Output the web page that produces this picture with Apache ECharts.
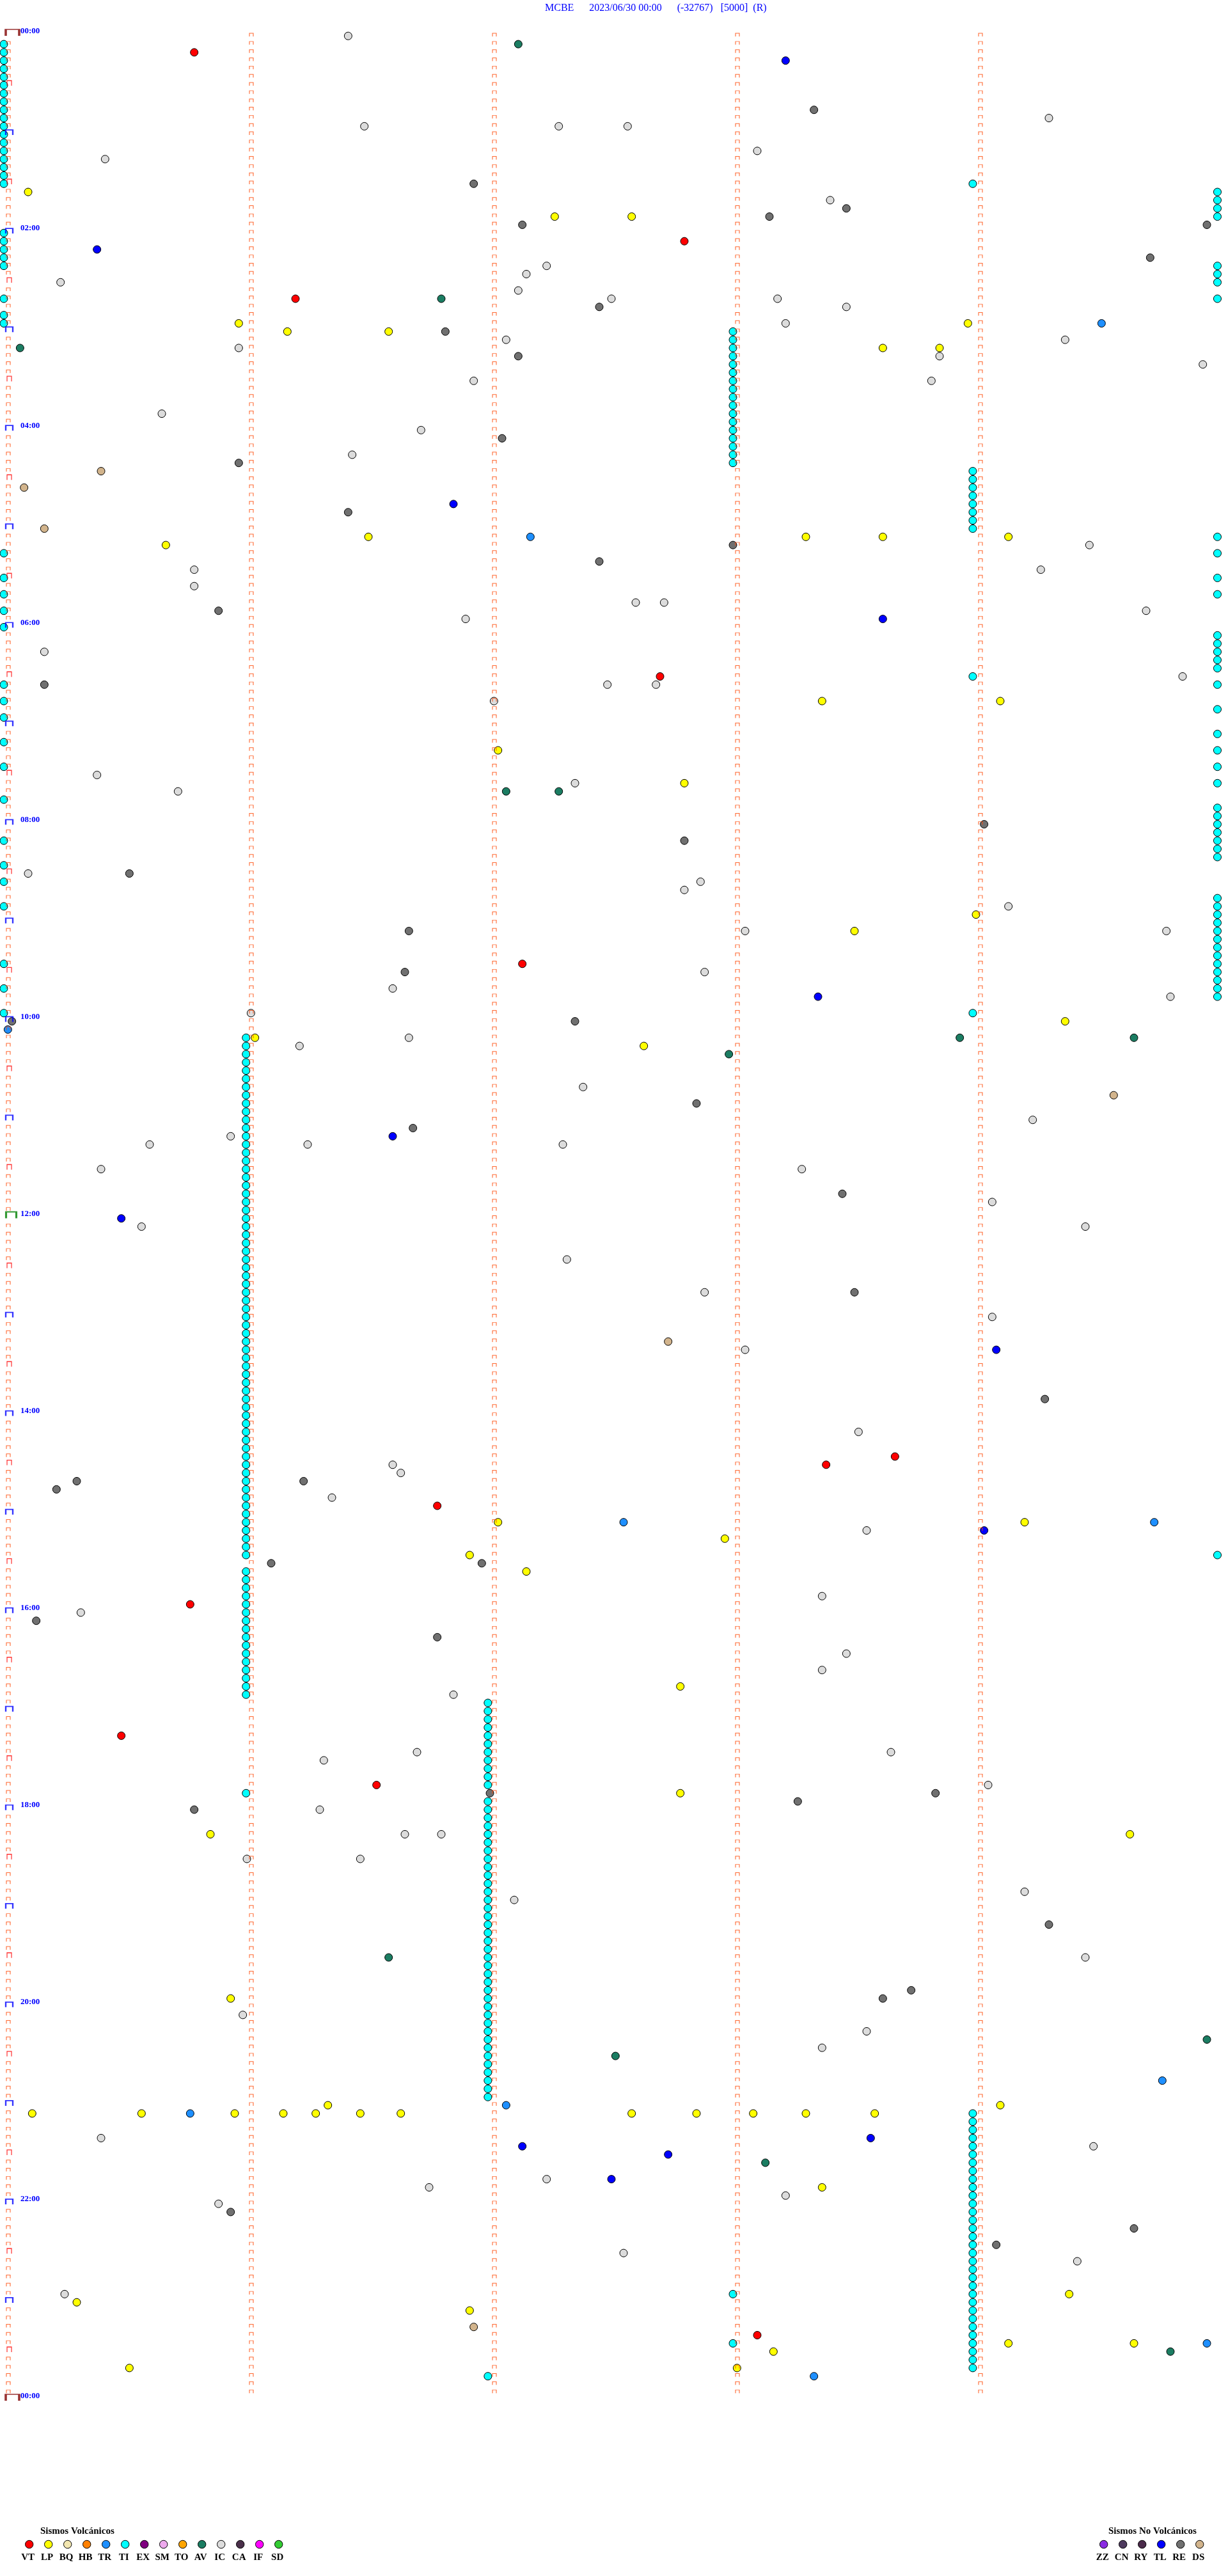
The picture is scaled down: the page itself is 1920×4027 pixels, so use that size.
<!DOCTYPE html>
<html><head><meta charset="utf-8">
<script src="https://cdn.jsdelivr.net/npm/echarts/dist/echarts.min.js"></script>
<style>html,body{margin:0;padding:0;background:#fff;}#chart{width:1920px;height:4027px;}</style>
</head><body><div id="chart"></div>
<script>
// ---------- header / axis text ----------
const HEADER = 'MCBE      2023/06/30 00:00      (-32767)   [5000]  (R)';
const HOUR_LABELS = ['00:00','02:00','04:00','06:00','08:00','10:00','12:00','14:00','16:00','18:00','20:00','22:00','00:00'];
const ROWS = 288;            // 5-minute rows in the day
const ROW_SECONDS = 300;     // seconds per row
const MARK_MINUTES = [0, 1, 2, 3, 4];

// ---------- legend ----------
const VOLC_NAMES  = ['VT','LP','BQ','HB','TR','TI','EX','SM','TO','AV','IC','CA','IF','SD'];
const VOLC_COLORS = ['#FF0000','#FFFF00','#F2E6B0','#FF8000','#1E8FFF','#00FFFF','#800080','#EEAAEE','#FFA500','#1B7D62','#DCDCDC','#4A2F4A','#FF00FF','#33CC33'];
const NONV_NAMES  = ['ZZ','CN','RY','TL','RE','DS'];
const NONV_COLORS = ['#8A2BE2','#4E3A5E','#4A2A4A','#0000FF','#707070','#D2B48C'];

// ---------- events: [second within row, row index] ----------
const VT = [[47,2],[168,25],[72,32],[162,78],[128,113],[220,173],[203,174],[107,179],[46,191],[29,207],[92,213],[186,280]];
const LP = [[6,19],[136,22],[155,22],[58,35],[70,36],[95,36],[238,35],[217,38],[231,38],[90,61],[40,62],[198,61],[217,61],[248,61],
  [202,81],[246,81],[122,87],[168,91],[240,107],[210,109],[262,120],[62,122],[158,123],[122,181],[178,183],[252,181],[115,185],[129,187],
  [167,201],[167,214],[51,219],[278,219],[56,239],[7,253],[34,253],[57,253],[69,253],[80,252],[77,253],[88,253],[98,253],[155,253],
  [171,253],[185,253],[198,253],[215,253],[246,252],[202,262],[263,275],[18,276],[115,277],[190,282],[181,284],[31,284],[248,281],[279,281]];
const TR = [[271,35],[130,61],[1,121],[153,181],[284,181],[46,253],[124,252],[286,249],[200,285],[297,281]];
const AV = [[127,1],[108,32],[4,38],[124,92],[137,92],[236,122],[279,122],[179,124],[95,234],[297,244],[151,246],[188,259],[288,282]];
const IC = [[85,0],[258,10],[89,11],[137,11],[154,11],[25,15],[186,14],[204,20],
  [129,29],[134,28],[14,30],[127,31],[150,32],[191,32],[208,33],[193,35],
  [58,38],[124,37],[231,39],[262,37],[296,40],[229,42],[116,42],[39,46],[103,48],[86,51],
  [268,62],[47,65],[256,65],[47,67],[156,69],[163,69],[114,71],[282,70],[10,75],[161,79],[149,79],[291,78],[121,81],
  [23,90],[141,91],[43,92],[6,102],[172,103],[168,104],[248,106],[183,109],[287,109],[173,114],[96,116],[288,117],[61,119],
  [100,122],[73,123],[143,128],[254,132],[56,134],[36,135],[75,135],[138,135],[24,138],[197,138],[244,142],[34,145],[267,145],
  [139,149],[173,153],[244,156],[183,160],[211,170],[96,174],[98,175],[81,178],[213,182],
  [202,190],[19,192],[208,197],[202,199],[111,202],[219,209],[79,210],[102,209],[243,213],[78,216],[99,219],[108,219],
  [60,222],[88,222],[252,226],[126,227],[267,234],[59,241],[213,243],[202,245],
  [24,256],[269,257],[134,261],[105,262],[193,263],[53,264],[153,270],[265,271],[15,275]];
const RE = [[200,9],[116,18],[208,21],[128,23],[189,22],[297,23],[283,27],[147,33],[109,36],[127,39],[123,49],[58,52],
  [85,58],[180,62],[147,64],[53,70],[10,79],[242,96],[168,98],[31,102],[100,109],[99,114],
  [2,120],[141,120],[171,130],[101,133],[207,141],[210,153],[257,166],[18,176],[13,177],[74,176],[118,186],[66,186],[8,193],[107,195],
  [120,214],[196,215],[230,214],[47,216],[258,230],[224,238],[217,239],[56,265],[279,267],[245,269]];
const TL = [[193,3],[23,26],[111,57],[217,71],[201,117],[96,134],[29,144],[245,160],[242,182],[214,256],[128,257],[164,258],[150,261]];
const DS = [[24,53],[5,55],[10,60],[274,129],[164,159],[116,279]];

// TI (tremor) events, listed by row at each column position
const TI_AT_0S = [1,2,3,4,5,6,7,8,9,10,11,12,13,14,15,16,17,18,24,25,26,27,28,32,34,35,63,66,68,70,72,79,81,83,86,89,93,98,101,103,106,113,116,119];
const TI_AT_60S = [122,123,124,125,126,127,128,129,130,131,132,133,134,135,136,137,138,139,140,141,142,143,144,145,146,147,148,149,150,
  151,152,153,154,155,156,157,158,159,160,161,162,163,164,165,166,167,168,169,170,171,172,173,174,175,176,177,178,179,180,181,182,183,184,185,
  187,188,189,190,191,192,193,194,195,196,197,198,199,200,201,202,214];
const TI_AT_120S = [203,204,205,206,207,208,209,210,211,212,213,215,216,217,218,219,220,221,222,223,224,225,226,227,228,229,230,
  231,232,233,234,235,236,237,238,239,240,241,242,243,244,245,246,247,248,249,250,251,285];
const TI_AT_180S = [36,37,38,39,40,41,42,43,44,45,46,47,48,49,50,51,52,275,281];
const TI_AT_239S = [18,53,54,55,56,57,58,59,60,78,119,253,254,255,256,257,258,259,260,261,262,263,264,265,266,267,268,269,270,
  271,272,273,274,275,276,277,278,279,280,281,282,283,284];
const TI_AT_299S = [19,20,21,22,28,29,30,32,61,63,66,68,73,74,75,76,77,79,82,85,87,89,91,94,95,96,97,98,99,100,
  105,106,107,108,109,110,111,112,113,114,115,116,117,185];

// ---------- build ----------
function col(sec, rows){ return rows.map(r => [sec, r]); }
const TI = [].concat(col(0,TI_AT_0S), col(59.8,TI_AT_60S), col(119.5,TI_AT_120S), col(180,TI_AT_180S), col(239.2,TI_AT_239S), col(299.6,TI_AT_299S));

const EVENT_SETS = [
  ['TI', TI, '#00FFFF'], ['IC', IC, '#DCDCDC'], ['RE', RE, '#707070'], ['LP', LP, '#FFFF00'],
  ['VT', VT, '#FF0000'], ['TR', TR, '#1E8FFF'], ['AV', AV, '#1B7D62'], ['TL', TL, '#0000FF'], ['DS', DS, '#D2B48C']
];

const smallMarks = [], halfMarks = [], hourMarks = [], dayMarks = [[0,0],[0,ROWS]], noonMarks = [[0,144]];
for (let r = 0; r < ROWS; r++) {
  MARK_MINUTES.forEach(m => {
    if (m === 0 && r % 6 === 0) return;
    smallMarks.push([m * 60, r]);
  });
  if (r % 12 === 6) halfMarks.push([0, r]);
  if (r % 12 === 0 && r !== 0 && r !== 144) hourMarks.push([0, r]);
}
const BRACKET = 'path://M0,10L0,0L10,0L10,10';
function markSeries(name, data, color, size, offset, width){
  return {name, type:'scatter', data, symbol:BRACKET, symbolSize:size, symbolOffset:offset, silent:true, z:5,
    itemStyle:{color:'rgba(0,0,0,0)', borderColor:color, borderWidth:width}};
}

const series = [
  markSeries('m5', smallMarks, '#FF4500', [6,5], [7,5.5], 1),
  markSeries('m30', halfMarks, '#FF0000', [7,8], [8.5,4], 1.3),
  markSeries('m60', hourMarks, '#0000FF', [11,8], [8.5,4], 2),
  markSeries('m0', dayMarks, '#800000', [21,10], [13.5,2], 2.5),
  markSeries('m12', noonMarks, '#008000', [16,10], [11.5,2], 2.5)
];
EVENT_SETS.forEach(([name, data, color]) => {
  series.push({name, type:'scatter', data, symbol:'circle', symbolSize:12, symbolOffset:[0,7.2], silent:true, z:3,
    itemStyle:{color, borderColor:'#000', borderWidth:1, opacity:1}});
});

// legend graphics
const graphic = [];
const FONT = '"Liberation Serif", "Times New Roman", serif';
function legendBlock(names, colors, x0, titleX, title){
  graphic.push({type:'text', x:titleX, y:3957, style:{text:title, font:'bold 15px ' + FONT, fill:'#000', align:'left', verticalAlign:'middle', textAlign:'left', textVerticalAlign:'middle'}});
  names.forEach((n, i) => {
    const cx = x0 + 30 * i;
    graphic.push({type:'circle', x:cx, y:3977.5, shape:{cx:0, cy:0, r:6.2}, style:{fill:colors[i], stroke:'#000', lineWidth:1}});
    graphic.push({type:'text', x:cx - 2, y:3998, style:{text:n, font:'bold 15px ' + FONT, fill:'#000', align:'center', verticalAlign:'middle', textAlign:'center', textVerticalAlign:'middle'}});
  });
}
legendBlock(VOLC_NAMES, VOLC_COLORS, 45.7, 63, 'Sismos Volcánicos');
legendBlock(NONV_NAMES, NONV_COLORS, 1725.7, 1733, 'Sismos No Volcánicos');

const chart = echarts.init(document.getElementById('chart'), null, {renderer:'canvas'});
chart.setOption({
  animation:false,
  backgroundColor:'#FFFFFF',
  title:{text:HEADER, left:852, top:5, padding:0, textStyle:{fontFamily:FONT, fontSize:16, fontWeight:'normal', color:'#0000FF'}},
  grid:{left:6, top:49, width:1900, height:3697, containLabel:false},
  xAxis:{type:'value', min:0, max:ROW_SECONDS, show:false},
  yAxis:{type:'value', min:0, max:ROWS, interval:24, inverse:true,
    axisLine:{show:false}, axisTick:{show:false}, splitLine:{show:false},
    axisLabel:{inside:true, margin:26, showMinLabel:true, showMaxLabel:true, color:'#0000FF', fontFamily:FONT, fontWeight:'bold', fontSize:13,
      padding:[4,0,0,0], align:'left', formatter:v => HOUR_LABELS[Math.round(v/24)]}},
  graphic,
  series
});
</script></body></html>
